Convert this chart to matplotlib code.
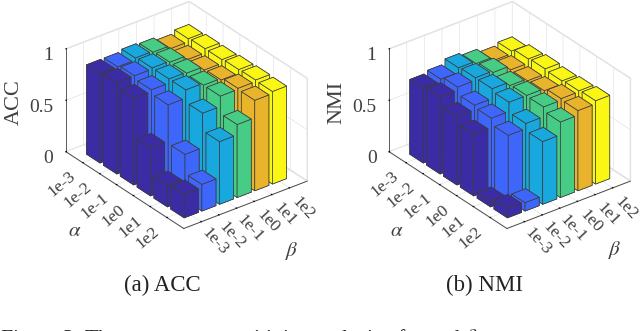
import matplotlib
matplotlib.use("Agg")
import matplotlib.pyplot as plt

plt.rcParams["font.family"] = ["Liberation Serif", "DejaVu Serif"]
plt.rcParams["mathtext.fontset"] = "stix"

tick_labels = ["1e-3", "1e-2", "1e-1", "1e0", "1e1", "1e2"]
colores = ["#3b2ca6", "#3f66fb", "#18a8de", "#47cc86", "#e9b42c", "#fbf714"]

# filas = alpha, columnas = beta
acc = [
    [0.87, 0.87, 0.89, 0.88, 0.85, 0.88],
    [0.89, 0.89, 0.90, 0.89, 0.85, 0.89],
    [0.84, 0.86, 0.90, 0.89, 0.855, 0.89],
    [0.47, 0.82, 0.90, 0.88, 0.865, 0.90],
    [0.21, 0.445, 0.78, 0.88, 0.89, 0.905],
    [0.23, 0.26, 0.61, 0.71, 0.88, 0.90],
]
nmi = [
    [0.727, 0.75, 0.795, 0.77, 0.735, 0.76],
    [0.75, 0.78, 0.805, 0.79, 0.75, 0.79],
    [0.665, 0.71, 0.805, 0.77, 0.75, 0.80],
    [0.60, 0.69, 0.78, 0.78, 0.76, 0.79],
    [0.055, 0.63, 0.68, 0.775, 0.79, 0.80],
    [0.09, 0.08, 0.61, 0.735, 0.78, 0.81],
]


def grafico(fig, pos, datos):
    ax = fig.add_axes(pos, projection="3d", proj_type="ortho")
    ax.patch.set_alpha(0)
    ax.view_init(elev=30, azim=-37.5)
    ax.set_box_aspect((194, 156, 119), zoom=0.87)
    ax.computed_zorder = False
    orden = 0
    for i in range(6):
        for j in range(5, -1, -1):
            ax.bar3d(i + 0.6, j + 0.6, 0, 0.8, 0.8, datos[i][j], color=colores[j],
                     edgecolor="#3c3c3c", linewidth=0.5, shade=False, zorder=10 + orden)
            orden += 1
    ax.set_xlim(0, 7)
    ax.set_ylim(0, 7)
    ax.set_zlim(0, 1)
    ax.set_xticks(range(1, 7), tick_labels, rotation=40, fontsize=12.5, color="#404040",
                  ha="right", va="center", rotation_mode="anchor")
    ax.set_yticks(range(1, 7), tick_labels, rotation=-47, fontsize=12.5, color="#404040",
                  ha="center", va="center", rotation_mode="anchor")
    ax.set_zticks([0, 0.5, 1], ["0", "0.5", "1"], fontsize=14, color="#404040", ha="right")
    ax.zaxis.set_ticks_position("lower")
    for eje in [ax.xaxis, ax.yaxis, ax.zaxis]:
        eje.set_pane_color((1, 1, 1, 1))
        eje.pane.set_edgecolor("#e0e0e0")
        eje.line.set_color("#404040")
        eje.line.set_linewidth(0.6)
        eje._axinfo["grid"]["color"] = "#e4e4e4"
        eje._axinfo["grid"]["linewidth"] = 0.5
        eje._axinfo["tick"]["inward_factor"] = 0
        eje._axinfo["tick"]["outward_factor"] = 0.05
    ax.tick_params(axis="x", pad=1, length=2)
    ax.tick_params(axis="y", pad=5, length=2)
    ax.tick_params(axis="z", pad=-2, length=2)
    return ax


fig = plt.figure(figsize=(6.4, 3.31), dpi=100)
grafico(fig, [0.045, 0.165, 0.48, 0.95], acc)
grafico(fig, [0.55, 0.165, 0.48, 0.95], nmi)

fig.text(14 / 640, 1 - 102 / 331, "ACC", rotation=90, ha="center", va="center", fontsize=16, color="#404040")
fig.text(337 / 640, 1 - 102 / 331, "NMI", rotation=90, ha="center", va="center", fontsize=16, color="#404040")
fig.text(75 / 640, 1 - 232 / 331, r"$\alpha$", ha="center", va="center", fontsize=15, color="#404040")
fig.text(292 / 640, 1 - 251 / 331, r"$\beta$", ha="center", va="center", fontsize=15, color="#404040")
fig.text(397 / 640, 1 - 232 / 331, r"$\alpha$", ha="center", va="center", fontsize=15, color="#404040")
fig.text(615 / 640, 1 - 250 / 331, r"$\beta$", ha="center", va="center", fontsize=15, color="#404040")
fig.text(162 / 640, 1 - 285 / 331, "(a) ACC", ha="center", va="center", fontsize=16.5, color="#222222")
fig.text(485 / 640, 1 - 285 / 331, "(b) NMI", ha="center", va="center", fontsize=16.5, color="#222222")
fig.text(0, 1 - 327 / 331, r"Figure 3: The parameter sensitivity analysis of $\alpha$ and $\beta$.",
         ha="left", va="top", fontsize=15.7, color="#222222")

fig.savefig("out.png", dpi=100)
